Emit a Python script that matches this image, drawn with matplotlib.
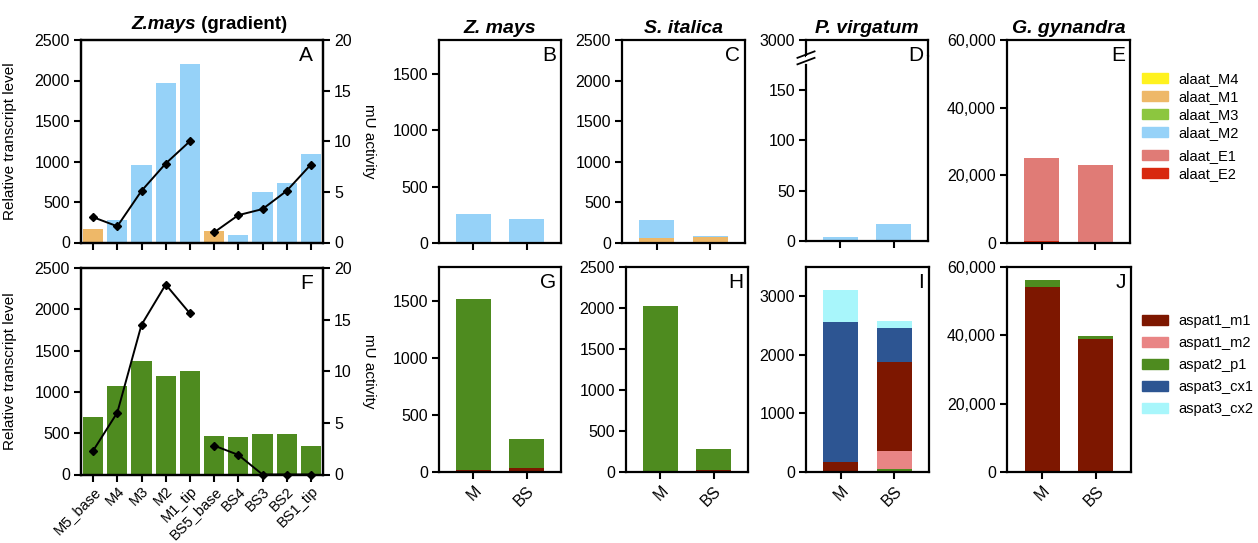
import numpy as np
import matplotlib
matplotlib.use('Agg')
import matplotlib.pyplot as plt
from matplotlib.patches import Patch
from matplotlib.ticker import StrMethodFormatter

plt.rcParams['font.family'] = ['Liberation Sans', 'DejaVu Sans']
plt.rcParams['font.size'] = 10
plt.rcParams['axes.linewidth'] = 1.6

# gradient sections (panels A and F)
sections = ['M5_base', 'M4', 'M3', 'M2', 'M1_tip', 'BS5_base', 'BS4', 'BS3', 'BS2', 'BS1_tip']
grad_alaat_M1 = [161, 0, 0, 0, 0, 140, 0, 0, 0, 0]
grad_alaat_M2 = [0, 276, 957, 1963, 2207, 0, 94, 626, 734, 1093]
grad_alaat_act_m = [2.5, 1.6, 5.1, 7.8, 10.0]
grad_alaat_act_bs = [1.0, 2.7, 3.3, 5.1, 7.7]
grad_aspat_p1 = [697, 1071, 1373, 1198, 1254, 472, 456, 496, 489, 346]
grad_aspat_act_m = [2.3, 6.0, 14.5, 18.4, 15.6]
grad_aspat_act_bs = [2.8, 1.9, 0, 0, 0]

cells = ['M', 'BS']
species = ['Z. mays', 'S. italica', 'P. virgatum', 'G. gynandra']

# alaat, stacked bottom -> top
zm_alaat = [('alaat_M3', [8, 8]), ('alaat_M2', [247, 203])]
si_alaat = [('alaat_M1', [58, 70]), ('alaat_M2', [225, 16])]
pv_alaat = [('alaat_M2', [3.7, 16.6])]
gg_alaat = [('alaat_E2', [700, 200]), ('alaat_E1', [24500, 22900])]

# aspat, stacked bottom -> top
zm_aspat = [('aspat1_m1', [20, 32]), ('aspat2_p1', [1496, 260])]
si_aspat = [('aspat1_m1', [18, 25]), ('aspat2_p1', [2006, 259])]
pv_aspat = [('aspat2_p1', [0, 46]), ('aspat1_m2', [0, 309]), ('aspat1_m1', [178, 1520]),
            ('aspat3_cx1', [2388, 588]), ('aspat3_cx2', [537, 120])]
gg_aspat = [('aspat1_m1', [54130, 39040]), ('aspat2_p1', [1940, 700])]

colors = {
    'alaat_M4': '#FFF21F', 'alaat_M1': '#EEB868', 'alaat_M3': '#8CC63F',
    'alaat_M2': '#96D2F8', 'alaat_E1': '#E07B76', 'alaat_E2': '#D8290F',
    'aspat1_m1': '#7D1700', 'aspat1_m2': '#E98585', 'aspat2_p1': '#4E8B1F',
    'aspat3_cx1': '#2D5592', 'aspat3_cx2': '#A8F6FB',
}

TICK = 11.5
W, H = 1258, 543
fig = plt.figure(figsize=(W / 100, H / 100), dpi=100)


def add_ax(left, right, top, bottom):
    return fig.add_axes([left / W, 1 - bottom / H, (right - left) / W, (bottom - top) / H])


def style(ax):
    ax.tick_params(direction='out', length=5, width=1.5, labelsize=TICK, pad=3)


def letter(ax, s, y=0.97):
    ax.text(0.96, y, s, transform=ax.transAxes, ha='right', va='top', fontsize=15)


def stacked(ax, layers):
    x = np.arange(len(cells))
    bottom = np.zeros(len(cells))
    for gene, vals in layers:
        ax.bar(x, vals, 0.65, bottom=bottom, color=colors[gene], linewidth=0)
        bottom += np.array(vals, dtype=float)
    ax.set_xlim(-0.65, 1.65)
    ax.set_xticks(x)
    style(ax)


def gradient(ax, act_m, act_bs, lab):
    x = np.arange(len(sections))
    ax2 = ax.twinx()
    ax2.plot(x[:5], act_m, '-D', color='black', ms=4.5, lw=1.4, clip_on=False, zorder=5)
    ax2.plot(x[5:], act_bs, '-D', color='black', ms=4.5, lw=1.4, clip_on=False, zorder=5)
    ax2.set_ylim(0, 20)
    ax2.set_yticks([0, 5, 10, 15, 20])
    style(ax2)
    ax.set_xlim(-0.5, 9.5)
    ax.set_xticks(x)
    ax.set_ylim(0, 2500)
    ax.set_yticks(range(0, 2501, 500))
    style(ax)
    ax.set_ylabel('Relative transcript level', fontsize=11)
    ax.yaxis.set_label_coords(-0.265, 0.5)
    ax2.set_ylabel('mU activity', fontsize=11, rotation=270, va='center')
    ax2.yaxis.set_label_coords(1.19, 0.5)
    letter(ax, lab)


# ---- panel A
axA = add_ax(81, 323, 40, 242.5)
xg = np.arange(len(sections))
axA.bar(xg, grad_alaat_M1, 0.84, color=colors['alaat_M1'], linewidth=0)
axA.bar(xg, grad_alaat_M2, 0.84, bottom=grad_alaat_M1, color=colors['alaat_M2'], linewidth=0)
gradient(axA, grad_alaat_act_m, grad_alaat_act_bs, 'A')
axA.set_xticklabels([])
axA.text(0.475, 1.035, 'Z.mays', transform=axA.transAxes, ha='right', va='bottom',
         fontsize=13.5, fontweight='bold', fontstyle='italic')
axA.text(0.475, 1.035, ' (gradient)', transform=axA.transAxes, ha='left', va='bottom',
         fontsize=13.5, fontweight='bold')

# ---- panel F
axF = add_ax(81, 323, 268, 474.5)
axF.bar(xg, grad_aspat_p1, 0.84, color=colors['aspat2_p1'], linewidth=0)
gradient(axF, grad_aspat_act_m, grad_aspat_act_bs, 'F')
axF.set_xticklabels(sections, rotation=45, ha='right', rotation_mode='anchor', fontsize=10.5)
axF.tick_params(axis='x', pad=2)

# ---- top row species panels
axB = add_ax(439, 561, 40, 243)
stacked(axB, zm_alaat)
axB.set_ylim(0, 1800)
axB.set_yticks(range(0, 1501, 500))

axC = add_ax(622, 745, 40, 243)
stacked(axC, si_alaat)
axC.set_ylim(0, 2500)
axC.set_yticks(range(0, 2501, 500))

# broken axis for P. virgatum
axDt = add_ax(806, 928, 40, 56)
axD = add_ax(806, 928, 56, 241)
stacked(axD, pv_alaat)
axD.set_ylim(0, 184)
axD.set_yticks([0, 50, 100, 150])
axD.spines['top'].set_visible(False)
axD.spines['left'].set_bounds(0, 175)
axDt.set_ylim(2800, 3000)
axDt.set_yticks([3000])
axDt.set_xlim(axD.get_xlim())
axDt.set_xticks([])
axDt.spines['bottom'].set_visible(False)
style(axDt)
for dy in (0.0, 0.035):
    axD.plot([-0.07, 0.07], [0.955 + dy, 0.99 + dy], color='black', lw=1.3,
             transform=axD.transAxes, clip_on=False)
letter(axD, 'D', y=1.055)

axE = add_ax(1007, 1130, 40, 243)
stacked(axE, gg_alaat)
axE.set_ylim(0, 60000)
axE.set_yticks(range(0, 60001, 20000))
axE.yaxis.set_major_formatter(StrMethodFormatter('{x:,.0f}'))

for ax in (axB, axC, axE, axD):
    ax.set_xticklabels([])
for ax, lab in zip((axB, axC, axE), 'BCE'):
    letter(ax, lab)
for ax, name in zip((axB, axC, axDt, axE), species):
    ax.set_title(name, fontsize=14, fontweight='bold', fontstyle='italic', pad=5)

# ---- bottom row species panels
axG = add_ax(439, 561, 267, 472)
stacked(axG, zm_aspat)
axG.set_ylim(0, 1800)
axG.set_yticks(range(0, 1501, 500))

axH = add_ax(626, 748, 267, 472)
stacked(axH, si_aspat)
axH.set_ylim(0, 2500)
axH.set_yticks(range(0, 2501, 500))

axI = add_ax(806, 929, 267, 472)
stacked(axI, pv_aspat)
axI.set_ylim(0, 3500)
axI.set_yticks(range(0, 3001, 1000))

axJ = add_ax(1007, 1131, 267, 472)
stacked(axJ, gg_aspat)
axJ.set_ylim(0, 60000)
axJ.set_yticks(range(0, 60001, 20000))
axJ.yaxis.set_major_formatter(StrMethodFormatter('{x:,.0f}'))

for ax, lab in zip((axG, axH, axI, axJ), 'GHIJ'):
    ax.set_xticklabels(cells, rotation=45, ha='right', rotation_mode='anchor')
    letter(ax, lab)


# ---- legends
def legend(genes, top, spacing):
    handles = [Patch(color=colors[g], label=g) for g in genes]
    fig.legend(handles=handles, loc='upper left', bbox_to_anchor=(1142 / W, 1 - top / H),
               frameon=False, fontsize=10.5, handlelength=1.8, handleheight=0.65,
               labelspacing=spacing, borderpad=0, borderaxespad=0, handletextpad=0.7)


legend(['alaat_M4', 'alaat_M1', 'alaat_M3', 'alaat_M2'], 72, 0.28)
legend(['alaat_E1', 'alaat_E2'], 149, 0.28)
legend(['aspat1_m1', 'aspat1_m2', 'aspat2_p1', 'aspat3_cx1', 'aspat3_cx2'], 314, 0.55)

fig.savefig('out.png', dpi=100)
